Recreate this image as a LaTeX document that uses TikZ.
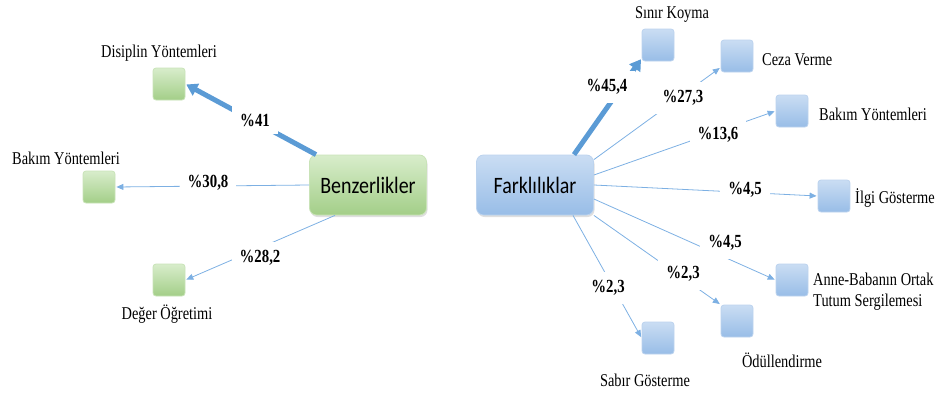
\documentclass[tikz,border=0pt]{standalone}
\usepackage{fontspec}
\setmainfont{Liberation Serif}[FakeStretch=0.8]
\newfontfamily\calib{Carlito}[FakeStretch=0.85]
\usetikzlibrary{arrows.meta,shadows}
\definecolor{gtop}{HTML}{D8EDCB}
\definecolor{gbot}{HTML}{A3CE88}
\definecolor{gedge}{HTML}{C9E3B8}
\definecolor{btop}{HTML}{CADDF3}
\definecolor{bbot}{HTML}{98BDE7}
\definecolor{bedge}{HTML}{BCD3EE}
\definecolor{thick}{HTML}{5B9BD5}
\definecolor{thin}{HTML}{7DB0E3}
\tikzset{
  big/.style={rounded corners=7pt, minimum width=117pt, minimum height=60pt, inner sep=0pt,
    font=\calib\fontsize{23.5}{26}\selectfont,
    drop shadow={opacity=0.25, shadow xshift=1pt, shadow yshift=-2pt}},
  sq/.style={rounded corners=3pt, minimum size=32pt, inner sep=0pt},
  gfill/.style={draw=gedge, line width=0.8pt, top color=gtop, bottom color=gbot},
  bfill/.style={draw=bedge, line width=0.8pt, top color=btop, bottom color=bbot},
  lbl/.style={font=\fontsize{18}{21}\selectfont, inner sep=0pt},
  pct/.style={font=\bfseries\fontsize{18.5}{20}\selectfont, fill=white, inner xsep=8pt, inner ysep=8pt},
  conn/.style={draw=thin, line width=0.8pt, -{Triangle[length=7pt,width=6pt]}, shorten >=1pt},
  fat/.style={draw=thick, line width=5pt, -{Triangle[length=11pt,width=13pt]}, shorten >=1pt},
}
\begin{document}
\begin{tikzpicture}[x=1pt,y=-1pt]
\useasboundingbox (0,0) rectangle (939,394);
% ---------- left ----------
\node[big,gfill] (B) at (368,185) {Benzerlikler};
\node[sq,gfill] (g1) at (169,84) {};
\node[sq,gfill] (g2) at (99,187) {};
\node[sq,gfill] (g3) at (169,280) {};
\node[lbl] (tg1) at (159,53) {Disiplin Yöntemleri};
\node[lbl] (tg2) at (66,158) {Bakım Yöntemleri};
\node[lbl] (tg3) at (167,314) {Değer Öğretimi};
\draw[fat] ([xshift=-52pt]B.north) -- (g1.east);
\draw[conn] (B.west) -- (g2.east);
\draw[conn] ([xshift=-33pt]B.south) -- (g3.east);
\node[pct] (p1) at (255,120) {\%41};
\node[pct] (p2) at (208,183) {\%30,8};
\node[pct] (p3) at (260,258) {\%28,2};
% ---------- right ----------
\node[big,bfill] (F) at (535,185) {Farklılıklar};
\node[sq,bfill] (b1) at (658,45) {};
\node[sq,bfill] (b2) at (737,56) {};
\node[sq,bfill] (b3) at (792,111) {};
\node[sq,bfill] (b4) at (834,196) {};
\node[sq,bfill] (b5) at (792,280) {};
\node[sq,bfill] (b6) at (737,321) {};
\node[sq,bfill] (b7) at (658,338) {};
\node[lbl] (tb1) at (672,14) {Sınır Koyma};
\node[lbl,anchor=west] (tb2) at (762,60) {Ceza Verme};
\node[lbl,anchor=west] (tb3) at (819,114) {Bakım Yöntemleri};
\node[lbl,anchor=west] (tb4) at (855,198) {İlgi Gösterme};
\node[lbl,anchor=west,align=left] (tb5) at (813,292) {Anne-Babanın Ortak\\Tutum Sergilemesi};
\node[lbl] (tb6) at (782,360) {Ödüllendirme};
\node[lbl] (tb7) at (645,380) {Sabır Gösterme};
\draw[fat] ([xshift=39pt]F.north) -- ([yshift=3pt]b1.south west);
\draw[conn] ([yshift=-5pt]F.north east) -- ([yshift=5pt]b2.south west);
\draw[conn] ([yshift=10pt]F.east) -- (b3.west);
\draw[conn] (F.east) -- (b4.west);
\draw[conn] ([yshift=-14pt]F.east) -- (b5.west);
\draw[conn] (F.south east) -- (b6.north west);
\draw[conn] ([xshift=38pt]F.south) -- (b7.west);
\node[pct] (q1) at (607,87) {\%45,4};
\node[pct] (q2) at (683,98) {\%27,3};
\node[pct] (q3) at (718,135) {\%13,6};
\node[pct] (q4) at (745,190) {\%4,5};
\node[pct] (q5) at (725,243) {\%4,5};
\node[pct] (q6) at (683,274) {\%2,3};
\node[pct] (q7) at (608,288) {\%2,3};
\end{tikzpicture}
\end{document}
